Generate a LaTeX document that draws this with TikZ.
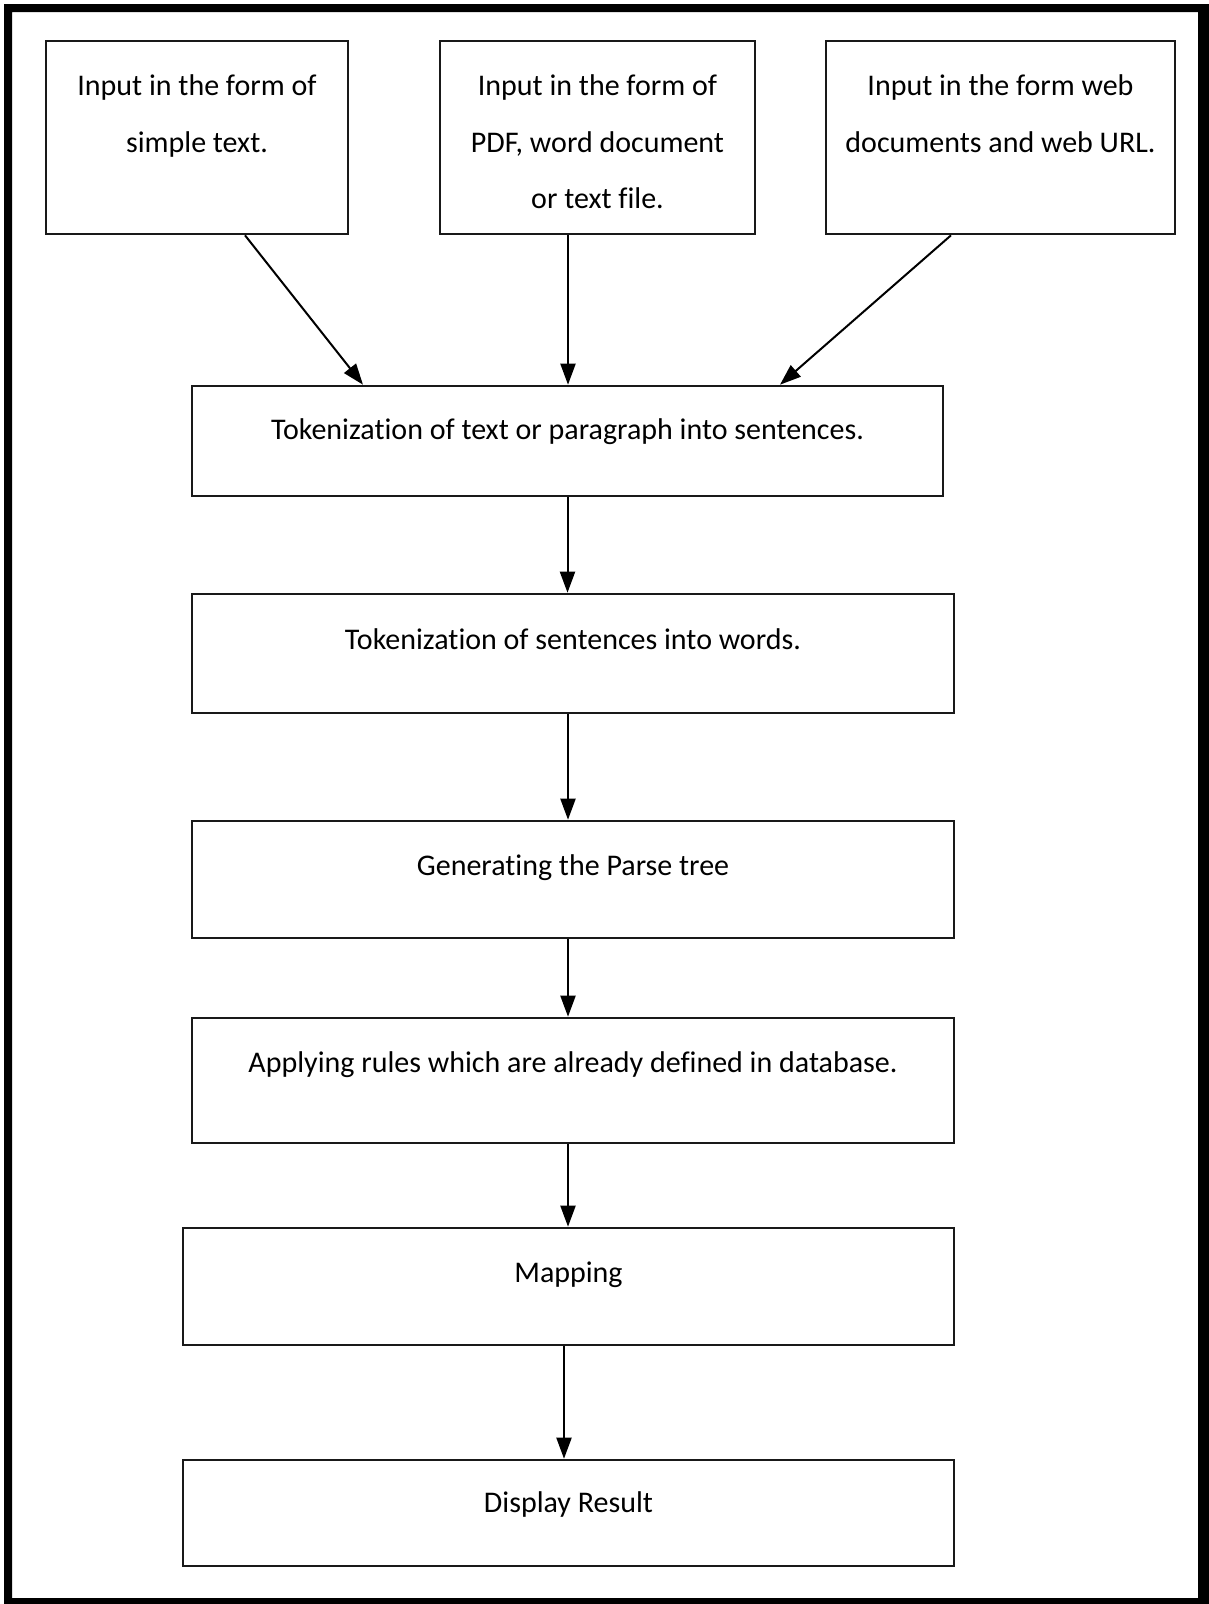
\documentclass[tikz,border=0pt]{standalone}
\usepackage{fontspec}
\setmainfont[Ligatures=NoCommon]{Carlito}
\usetikzlibrary{arrows.meta}
\begin{document}
\begin{tikzpicture}[x=1pt,y=-1pt,
  stepbox/.style={draw=black!90, line width=2.6pt, inner sep=0pt},
  boxtext/.style={anchor=base, align=center, inner sep=0pt,
    font=\fontsize{30}{56.5}\selectfont},
  flow/.style={draw=black, line width=2pt, -{Triangle[length=21pt,width=15pt]}}]
\useasboundingbox (0,0) rectangle (1209,1604);
% heavy outer frame
\fill[black, even odd rule] (4,4) rectangle (1209,1604) (12,12) rectangle (1198,1598);

% input boxes
\node[stepbox, minimum width=302pt, minimum height=193pt] (in1) at (197,137.5) {};
\node[stepbox, minimum width=315pt, minimum height=193pt] (in2) at (597.5,137.5) {};
\node[stepbox, minimum width=349pt, minimum height=193pt] (in3) at (1000.5,137.5) {};
% processing steps
\node[stepbox, minimum width=751pt, minimum height=110pt] (tok1) at (567.5,441) {};
\node[stepbox, minimum width=762pt, minimum height=119pt] (tok2) at (573,653.5) {};
\node[stepbox, minimum width=762pt, minimum height=117pt] (parse) at (573,879.5) {};
\node[stepbox, minimum width=762pt, minimum height=125pt] (rules) at (573,1080.5) {};
\node[stepbox, minimum width=771pt, minimum height=117pt] (map) at (568.5,1286.5) {};
\node[stepbox, minimum width=771pt, minimum height=106pt] (disp) at (568.5,1513) {};

% texts (base anchor sits on the last line)
\node[boxtext] (t1) at ([yshift=-112.5pt]in1.north) {Input in the form of\\simple text.};
\node[boxtext] (t2) at ([yshift=-169pt]in2.north) {Input in the form of\\PDF, word document\\or text file.};
\node[boxtext] (t3) at ([yshift=-112.5pt]in3.north) {Input in the form web\\documents and web URL.};
\node[boxtext] (t4) at ([yshift=-55pt]tok1.north) {Tokenization of text or paragraph into sentences.};
\node[boxtext] (t5) at ([yshift=-57pt]tok2.north) {Tokenization of sentences into words.};
\node[boxtext] (t6) at ([yshift=-56pt]parse.north) {Generating the Parse tree};
\node[boxtext] (t7) at ([yshift=-56pt]rules.north) {Applying rules which are already defined in database.};
\node[boxtext] (t8) at ([yshift=-56pt]map.north) {Mapping};
\node[boxtext] (t9) at ([yshift=-54pt]disp.north) {Display Result};

% connectors
\draw[flow] ([xshift=48pt]in1.south) -- ([xshift=-204.5pt]tok1.north);
\draw[flow] ([xshift=-29.5pt]in2.south) -- ([xshift=-29.5pt]in2.south |- tok1.north);
\draw[flow] ([xshift=-49.5pt]in3.south) -- ([xshift=212.5pt]tok1.north);
\draw[flow] (tok1.south) -- (tok1.south |- tok2.north);
\draw[flow] ([xshift=-5pt]tok2.south) -- ([xshift=-5pt]tok2.south |- parse.north);
\draw[flow] ([xshift=-5pt]parse.south) -- ([xshift=-5pt]parse.south |- rules.north);
\draw[flow] ([xshift=-5pt]rules.south) -- ([xshift=-5pt]rules.south |- map.north);
\draw[flow] ([xshift=-4.5pt]map.south) -- ([xshift=-4.5pt]map.south |- disp.north);
\end{tikzpicture}
\end{document}
